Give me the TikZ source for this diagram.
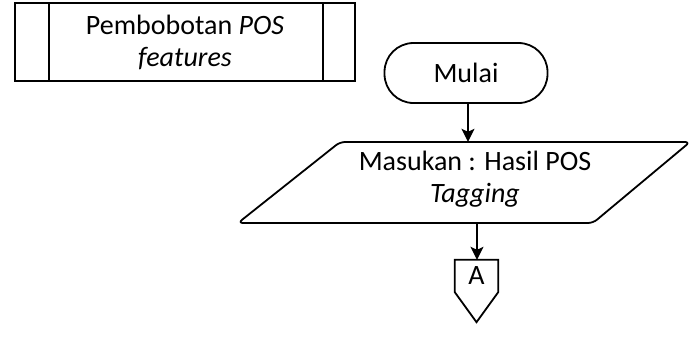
\documentclass[tikz,border=0pt]{standalone}
\usepackage{fontspec}
\setmainfont{Carlito}
\usetikzlibrary{calc,arrows.meta}
\begin{document}
\begin{tikzpicture}[x=1pt,y=-1pt,
  every node/.style={font=\fontsize{28}{32}\selectfont, align=center},
  line/.style={line width=1.8pt},
  flow/.style={line width=1.4pt,-{Stealth[length=13pt,width=13pt,inset=3pt]}},
  box/.style={draw, line width=1.8pt, minimum width=340pt, minimum height=78pt, inner sep=0pt}]
  \useasboundingbox (0,0) rectangle (692,338);

  % predefined process
  \node[box] (pp) at (185,42) {Pembobotan \textit{POS}\\\textit{features}};
  \draw[line] ([xshift=35pt]pp.north west) -- ([xshift=35pt]pp.south west);
  \draw[line] ([xshift=-33pt]pp.north east) -- ([xshift=-33pt]pp.south east);

  % terminator
  \node[draw, line, rounded corners=29pt, minimum width=163pt, minimum height=60pt, inner sep=0pt] (mulai) at (466,73) {Mulai};

  % input (parallelogram)
  \node[minimum width=250pt, minimum height=81pt, inner sep=0pt] (in) at (468,182.5) {};
  \node at (475,179) {Masukan : Hasil POS\\\textit{Tagging}};
  \draw[line, rounded corners=5pt, line join=round]
    (340,142) -- (690,142) -- (593,223) -- (238,223) -- cycle;

  % off-page connector
  \node[minimum width=43pt, minimum height=32pt, inner sep=0pt] (A) at (476.5,276) {A};
  \draw[line, line join=miter]
    (A.north west) -- (A.north east) -- (A.south east) -- ($(A.south)+(0,-30pt)$) -- (A.south west) -- cycle;

  % connectors
  \draw[flow] (mulai.south -| 468,0) -- (in.north -| 468,0);
  \draw[flow] (477,223) -- (A.north -| 477,0);
\end{tikzpicture}
\end{document}
